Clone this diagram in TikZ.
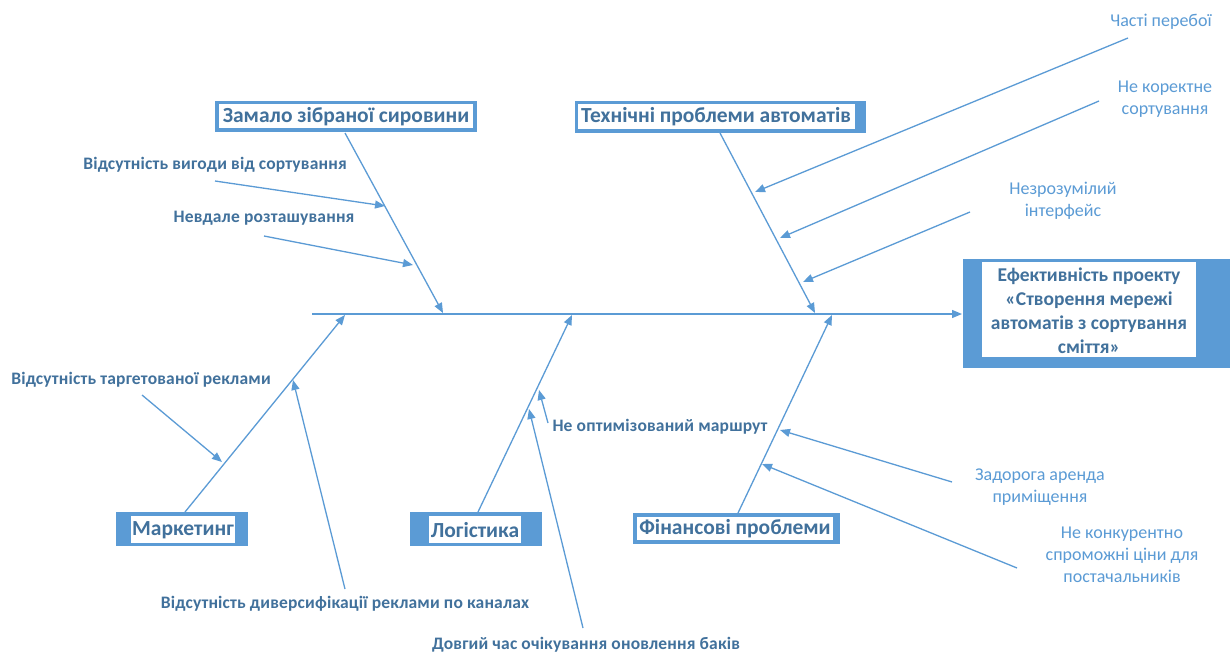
\documentclass[tikz,border=0pt]{standalone}
\usepackage{fontspec}
\setmainfont{Carlito}
\usetikzlibrary{arrows.meta}
\definecolor{lineblue}{HTML}{5B9BD5}
\definecolor{txtblue}{HTML}{41719C}
\definecolor{lighttxt}{HTML}{5B9BD5}
\begin{document}
\begin{tikzpicture}[x=1pt,y=-1pt,
  bone/.style={draw=lineblue, line width=1.3pt, -{Triangle[length=10pt,width=8pt]}},
  boxtxt/.style={text=txtblue, font=\fontsize{21.5}{24}\selectfont\bfseries, inner sep=0pt},
  cause/.style={text=txtblue, font=\fontsize{17.5}{20}\selectfont\bfseries\addfontfeature{LetterSpace=1}, inner sep=0pt},
  lcause/.style={text=lighttxt, font=\fontsize{18}{22}\selectfont, inner sep=0pt, align=center}
]
\useasboundingbox (0,0) rectangle (1231,655);
\fill[white] (0,0) rectangle (1231,655);

% category boxes: outer blue, inner white, text
\fill[lineblue] (215,101) rectangle (477,132);
\fill[white] (219,104) rectangle (473,128);
\node[boxtxt] (zam) at (346,117) {Замало зібраної сировини};

\fill[lineblue] (575,101) rectangle (866,133);
\fill[white] (578,104) rectangle (855,129);
\node[boxtxt] (tech) at (716,117) {Технічні проблеми автоматів};

\fill[lineblue] (116,512) rectangle (248,546);
\fill[white] (131,516) rectangle (235,543);
\node[boxtxt] (mark) at (183,530) {Маркетинг};

\fill[lineblue] (410,512) rectangle (542,546);
\fill[white] (429,516) rectangle (521,543);
\node[boxtxt] (log) at (475,530) {Логістика};

\fill[lineblue] (633,513) rectangle (840,544);
\fill[white] (637,517) rectangle (833,540);
\node[boxtxt] (fin) at (735,528.5) {Фінансові проблеми};

\fill[lineblue] (963,259) rectangle (1230,368);
\fill[white] (982,262) rectangle (1196,357);
\node[boxtxt, align=center, font=\fontsize{19.5}{24}\selectfont\bfseries] (eff) at (1089,311) {Ефективність проекту\\«Створення мережі\\автоматів з сортування\\сміття»};

% spine
\coordinate (sp0) at (312,314);
\coordinate (sp1) at (962,314);
\draw[bone] (sp0) -- (sp1);

% bones
\coordinate (zb0) at (345,133);  \coordinate (zb1) at (443,313);
\coordinate (tb0) at (720,133);  \coordinate (tb1) at (815,313);
\coordinate (mb0) at (185,512);  \coordinate (mb1) at (345,315);
\coordinate (lb0) at (478,512);  \coordinate (lb1) at (572,315);
\coordinate (fb0) at (738,513);  \coordinate (fb1) at (832,315);
\draw[bone] (zb0) -- (zb1);
\draw[bone] (tb0) -- (tb1);
\draw[bone] (mb0) -- (mb1);
\draw[bone] (lb0) -- (lb1);
\draw[bone] (fb0) -- (fb1);

% causes: Zamalo
\node[cause] (c1) at (215,165) {Відсутність вигоди від сортування};
\node[cause] (c2) at (264,218) {Невдале розташування};
\coordinate (c1a) at (215,181); \coordinate (c1b) at (385,206);
\coordinate (c2a) at (264,236); \coordinate (c2b) at (413,265);
\draw[bone] (c1a) -- (c1b);
\draw[bone] (c2a) -- (c2b);

% causes: Tech
\node[lcause] (c3) at (1161,22) {Часті перебої};
\node[lcause] (c4) at (1165,99) {Не коректне\\сортування};
\node[lcause] (c5) at (1063,201) {Незрозумілий\\інтерфейс};
\coordinate (c3a) at (1128,38); \coordinate (c3b) at (755,192);
\coordinate (c4a) at (1099,101); \coordinate (c4b) at (780,238);
\coordinate (c5a) at (970,212); \coordinate (c5b) at (803,282);
\draw[bone] (c3a) -- (c3b);
\draw[bone] (c4a) -- (c4b);
\draw[bone] (c5a) -- (c5b);

% causes: Marketing
\node[cause] (c6) at (141,380) {Відсутність таргетованої реклами};
\node[cause] (c7) at (345,604) {Відсутність диверсифікації реклами по каналах};
\coordinate (c6a) at (142,395); \coordinate (c6b) at (222,462);
\coordinate (c7a) at (345,589); \coordinate (c7b) at (293,380);
\draw[bone] (c6a) -- (c6b);
\draw[bone] (c7a) -- (c7b);

% causes: Logistics
\node[cause] (c8) at (660,427) {Не оптимізований маршрут};
\node[cause] (c9) at (586,645) {Довгий час очікування оновлення баків};
\coordinate (c8a) at (548,423); \coordinate (c8b) at (539,390);
\coordinate (c9a) at (583,628); \coordinate (c9b) at (529,409);
\draw[bone] (c8a) -- (c8b);
\draw[bone] (c9a) -- (c9b);

% causes: Finance
\node[lcause] (c10) at (1040,487) {Задорога аренда\\приміщення};
\node[lcause] (c11) at (1122,555) {Не конкурентно\\спроможні ціни для\\постачальників};
\coordinate (c10a) at (952,482); \coordinate (c10b) at (780,430);
\coordinate (c11a) at (1017,568); \coordinate (c11b) at (762,464);
\draw[bone] (c10a) -- (c10b);
\draw[bone] (c11a) -- (c11b);
\end{tikzpicture}
\end{document}
